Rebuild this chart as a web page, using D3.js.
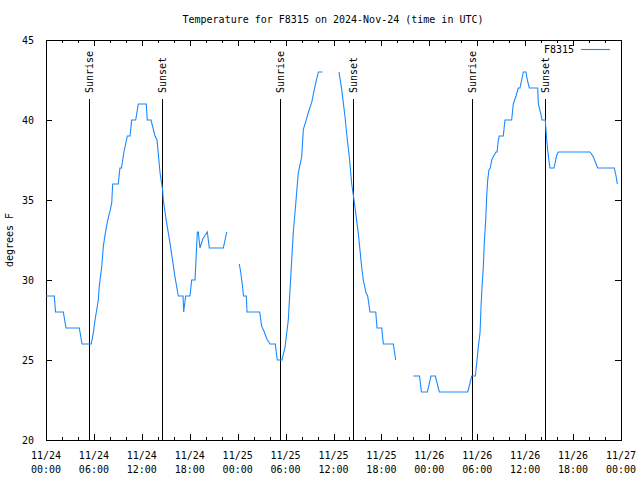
<!DOCTYPE html>
<html>
<head>
<meta charset="utf-8">
<script src="https://cdn.jsdelivr.net/npm/d3@7"></script>
<style>
  body { margin: 0; background: #fff; }
  svg { display: block; }
  text { font-family: "DejaVu Sans Mono", "Liberation Mono", monospace; font-size: 10px; fill: #000; }
</style>
</head>
<body>
<svg id="chart" width="640" height="480"></svg>
<script>
// ---- data (hours since 2024-11-24 00:00 UTC, temperature in °F; null = gap) ----
const hours = [
  0, 1.04, 1.19, 2.17, 2.50, 4.17, 4.51, 5.67, 5.92, 6.14, 6.55, 6.67, 6.97, 7.18, 7.39, 7.60, 7.80, 8.01, 8.23, 8.35,
  9.05, 9.26, 9.45, 9.76, 10.18, 10.52, 10.73, 11.23, 11.56, 12.56, 12.68, 13.15, 13.65, 13.90, 14.28, 14.61, 14.69,
  15.03, 15.53, 16.15, 16.57, 17.16, 17.24, 17.49, 18.03, 18.24, 18.66, 18.95, 19.07, 19.28, 19.66, 20.20, 20.45,
  22.20, 22.63,
  23.4,
  24.20, 24.38, 24.63, 24.73, 25.08, 25.17, 26.76, 27.01, 27.30, 27.67, 28.05, 28.71, 28.96, 29.55, 29.93, 30.34,
  30.68, 30.97, 31.31, 31.59, 32.02, 32.22, 32.64, 32.93, 33.27, 33.68, 34.10, 34.60,
  35.5,
  36.69, 37.03, 37.44, 37.73, 37.98, 38.28, 38.57, 39.11, 39.53, 39.73, 40.07, 40.28, 40.57, 41.29, 41.45, 42.04,
  42.24, 43.49, 43.79,
  44.8,
  45.99, 46.77, 47.02, 47.75, 48.21, 48.75, 49.25, 52.81, 53.31, 53.76, 53.93, 54.13, 54.35, 54.47, 54.60, 54.76,
  54.88, 55.06, 55.18, 55.31, 55.47, 55.63, 55.81, 56.01, 56.35, 56.48, 56.64, 56.76, 57.26, 57.47, 58.31, 58.51,
  58.85, 59.14, 59.35, 59.56, 59.77, 60.10, 60.27, 60.52, 61.57, 61.65, 61.95, 62.11, 62.52, 62.57, 62.70, 62.82,
  63.02, 63.11, 63.61, 63.95, 64.15, 68.12, 68.53, 69.08, 71.16, 71.38, 71.54
];
const temps = [
  29, 29, 28, 28, 27, 27, 26, 26, 26.7, 27.5, 28.75, 29.6, 30.8, 32.1, 32.8, 33.4, 33.9, 34.3, 34.8, 36,
  36, 37, 37, 38, 39, 39, 40, 40, 41, 41, 40, 40, 39, 38.75, 36.7, 35.6, 35,
  33.8, 32.3, 30.2, 29, 29, 28, 29, 29, 30, 30, 33, 33, 32, 32.6, 33, 32,
  32, 33,
  null,
  31, 30.5, 29.5, 29, 29, 28, 28, 27.1, 26.8, 26.3, 26, 26, 25, 25, 25.8, 27.5,
  30.5, 33, 35, 36.7, 37.7, 39.4, 40.1, 40.6, 41.1, 42.1, 43, 43,
  null,
  43, 41.9, 40.2, 38.75, 37.7, 36, 35, 32.9, 30.8, 30, 29.2, 29, 28, 28, 27, 27,
  26, 26, 25,
  null,
  24, 24, 23, 23, 24, 24, 23, 23, 24, 24, 24.8, 25.8, 26.7, 28.3, 29.6, 30.8,
  32.3, 33.75, 35.2, 36.25, 36.9, 37, 37.5, 37.7, 38, 38, 38.75, 39, 39, 40, 40, 41,
  41.5, 42, 42, 42.5, 43, 43, 42.5, 42, 42, 41, 40.4, 40, 40, 39.6, 38.75, 38.1,
  37.3, 37, 37, 37.8, 38, 38, 37.7, 37, 37, 36.5, 36
];
const sunHours  = [5.38, 14.56, 29.34, 38.48, 53.38, 62.52];
const sunLabels = ["Sunrise", "Sunset", "Sunrise", "Sunset", "Sunrise", "Sunset"];
const xTickHours = [0, 6, 12, 18, 24, 30, 36, 42, 48, 54, 60, 66, 72];
const xTickDates = ["11/24","11/24","11/24","11/24","11/25","11/25","11/25","11/25","11/26","11/26","11/26","11/26","11/27"];
const xTickTimes = ["00:00","06:00","12:00","18:00","00:00","06:00","12:00","18:00","00:00","06:00","12:00","18:00","00:00"];
const yTicks = [20, 25, 30, 35, 40, 45];
const seriesName = "F8315";
const title = "Temperature for F8315 on 2024-Nov-24 (time in UTC)";
const yLabel = "degrees F";

// ---- layout ----
const L = 46, R = 621, T = 40, B = 440;
const lineColor = "#1a88ff";
const svg = d3.select("#chart");
const x = d3.scaleLinear().domain([0, 72]).range([L, R]);
const y = d3.scaleLinear().domain([20, 45]).range([B, T]);

const minorHours = d3.range(0, 73, 2).filter(h => h % 6 !== 0);

function styleAxis(g) {
  g.select(".domain").remove();
  g.selectAll("line").attr("stroke", "#000").attr("shape-rendering", "crispEdges");
}

// bottom axis (major + minor), top mirror
svg.append("g").attr("transform", `translate(0,${B})`)
  .call(d3.axisBottom(x).tickValues(xTickHours).tickSize(-6).tickFormat(""))
  .call(styleAxis);
svg.append("g").attr("transform", `translate(0,${B})`)
  .call(d3.axisBottom(x).tickValues(minorHours).tickSize(-3).tickFormat(""))
  .call(styleAxis);
svg.append("g").attr("transform", `translate(0,${T})`)
  .call(d3.axisTop(x).tickValues(xTickHours).tickSize(-6).tickFormat(""))
  .call(styleAxis);
svg.append("g").attr("transform", `translate(0,${T})`)
  .call(d3.axisTop(x).tickValues(minorHours).tickSize(-3).tickFormat(""))
  .call(styleAxis);

// x labels (two lines)
const xl = svg.append("g");
xTickHours.forEach((h, i) => {
  xl.append("text").attr("text-anchor", "middle").attr("x", x(h)).attr("y", 459).text(xTickDates[i]);
  xl.append("text").attr("text-anchor", "middle").attr("x", x(h)).attr("y", 473).text(xTickTimes[i]);
});

// y axes
svg.append("g").attr("transform", `translate(${L},0)`)
  .call(d3.axisLeft(y).tickValues(yTicks).tickSize(-6).tickFormat(d3.format("d")).tickPadding(12))
  .call(g => { styleAxis(g); g.selectAll("text").attr("font-family", null).attr("font-size", null).attr("fill", "#000"); });
svg.append("g").attr("transform", `translate(${R},0)`)
  .call(d3.axisRight(y).tickValues(yTicks).tickSize(-6).tickFormat(""))
  .call(styleAxis);

// border
svg.append("rect").attr("x", L).attr("y", T).attr("width", R - L).attr("height", B - T)
  .attr("fill", "none").attr("stroke", "#000").attr("shape-rendering", "crispEdges");

// sunrise / sunset lines
const sun = svg.append("g");
sunHours.forEach((h, i) => {
  const xp = Math.round(x(h)) + 0.5;
  sun.append("line").attr("x1", xp).attr("x2", xp).attr("y1", 99).attr("y2", B)
    .attr("stroke", "#000").attr("stroke-width", 1);
  sun.append("text").attr("transform", `translate(${xp},93) rotate(-90)`)
    .attr("text-anchor", "start").attr("dy", "0.35em").text(sunLabels[i]);
});

// data line
const pts = hours.map((h, i) => [h, temps[i]]);
const line = d3.line().defined(d => d[1] !== null).x(d => x(d[0])).y(d => y(d[1]));
svg.append("path").datum(pts).attr("d", line)
  .attr("fill", "none").attr("stroke", lineColor).attr("stroke-width", 1.1);

// legend
svg.append("text").attr("x", 574).attr("y", 53).attr("text-anchor", "end").text(seriesName);
svg.append("line").attr("x1", 581).attr("x2", 610).attr("y1", 49.5).attr("y2", 49.5)
  .attr("stroke", lineColor).attr("stroke-width", 1.1);

// title & y label
svg.append("text").attr("x", 333).attr("y", 23).attr("text-anchor", "middle").text(title);
svg.append("text").attr("transform", "translate(13,240) rotate(-90)")
  .attr("text-anchor", "middle").text(yLabel);
</script>
</body>
</html>
